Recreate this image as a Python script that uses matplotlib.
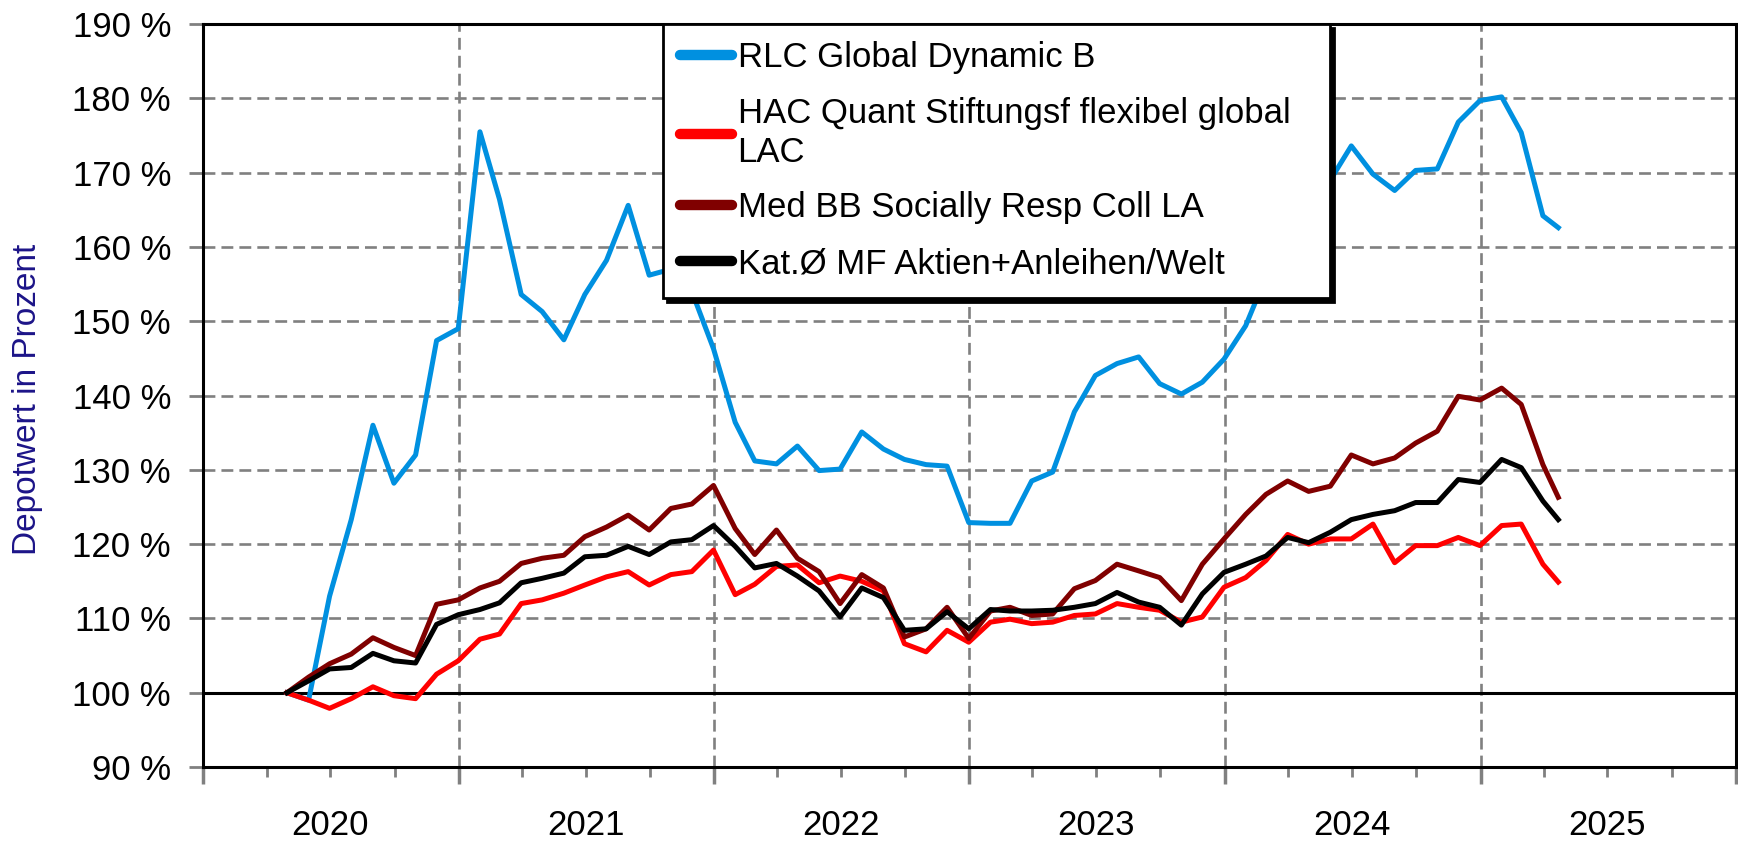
import numpy as np
import pandas as pd
import matplotlib
matplotlib.use('Agg')
import matplotlib.pyplot as plt
import matplotlib.dates as mdates
from matplotlib.ticker import FuncFormatter, FixedLocator

plt.rcParams['font.family'] = ['Liberation Sans', 'DejaVu Sans']

# month-end values (Apr 2020 .. Mar 2025) plus the last quote in Apr 2025
dates = list(pd.date_range('2020-04-30', '2025-03-31', freq=pd.offsets.MonthEnd())) + [pd.Timestamp('2025-04-22')]

rlc = [100, 99, 113, 123.3, 136, 128.2, 132, 147.4, 149,
       175.5, 166.4, 153.6, 151.3, 147.5, 153.6, 158.2, 165.6, 156.2, 157, 154, 146.3,
       136.4, 131.2, 130.8, 133.2, 129.9, 130.1, 135.1, 132.8, 131.4, 130.7, 130.5, 122.9,
       122.8, 122.8, 128.5, 129.7, 137.8, 142.7, 144.3, 145.2, 141.6, 140.2, 141.8, 144.9,
       149.4, 156, 161, 165, 169, 173.6, 169.8, 167.6, 170.3, 170.5, 176.8, 179.7,
       180.2, 175.4, 164.2, 162.6]

hac = [100, 99, 97.9, 99.2, 100.8, 99.6, 99.2, 102.5, 104.3,
       107.2, 107.9, 112, 112.5, 113.4, 114.5, 115.6, 116.3, 114.5, 115.9, 116.3, 119.2,
       113.2, 114.6, 117, 117.2, 114.8, 115.7, 115, 113.7, 106.6, 105.5, 108.4, 106.8,
       109.5, 109.9, 109.3, 109.5, 110.4, 110.6, 112, 111.5, 111.1, 109.5, 110.2, 114.2,
       115.5, 117.8, 121.3, 120, 120.7, 120.7, 122.7, 117.5, 119.8, 119.8, 120.9, 119.8,
       122.5, 122.7, 117.3, 114.9]

med = [100, 102.1, 103.9, 105.2, 107.4, 106.1, 105, 111.9, 112.5,
       114.1, 115, 117.4, 118.1, 118.5, 121, 122.3, 123.9, 121.9, 124.8, 125.4, 127.9,
       122.1, 118.6, 121.9, 118.1, 116.3, 112, 115.9, 114.1, 107.5, 108.6, 111.5, 107.3,
       111, 111.5, 110.4, 110.6, 114, 115.1, 117.3, 116.4, 115.5, 112.4, 117.3, 120.7,
       124, 126.7, 128.5, 127.1, 127.8, 132, 130.8, 131.6, 133.6, 135.2, 139.9, 139.4,
       141, 138.8, 130.7, 126.3]

kat = [100, 101.6, 103.2, 103.4, 105.3, 104.3, 104, 109.2, 110.5,
       111.2, 112.1, 114.8, 115.4, 116.1, 118.3, 118.5, 119.7, 118.6, 120.3, 120.6, 122.5,
       119.7, 116.8, 117.4, 115.7, 113.7, 110.2, 114.1, 112.8, 108.4, 108.6, 110.9, 108.6,
       111.2, 111, 111, 111.1, 111.5, 112, 113.5, 112.2, 111.5, 109.1, 113.3, 116.2,
       117.3, 118.4, 120.9, 120.2, 121.6, 123.3, 124, 124.5, 125.6, 125.6, 128.7, 128.3,
       131.4, 130.3, 125.8, 123.3]

series = [rlc, hac, med, kat]
labels = ['RLC Global Dynamic B',
          'HAC Quant Stiftungsf flexibel global\nLAC',
          'Med BB Socially Resp Coll LA',
          'Kat.\u00d8 MF Aktien+Anleihen/Welt']
colors = ['#0090E0', '#FF0000', '#800000', '#000000']
yticks = list(range(90, 191, 10))

fig = plt.figure(figsize=(17.38, 8.44), dpi=100)
ax = fig.add_axes([0.1168, 0.0912, 0.882, 0.8803])
ax.set_axisbelow(True)

grey = '#808080'
dash = (0, (4.5, 2.3))
ax.grid(axis='both', which='major', color=grey, linestyle=dash, linewidth=1.9)
ax.axhline(100, color='black', linewidth=2.2, zorder=1.5)

for vals, lab, col in zip(series, labels, colors):
    ax.plot(dates, vals, color=col, linewidth=3.6, label=lab, zorder=2)

ax.set_ylim(90, 190)
ax.yaxis.set_major_locator(FixedLocator(yticks))
ax.yaxis.set_major_formatter(FuncFormatter(lambda v, p: f'{int(v)} %'))
ax.set_xlim(pd.Timestamp('2020-01-01'), pd.Timestamp('2026-01-01'))
ax.xaxis.set_major_locator(mdates.YearLocator())
ax.xaxis.set_major_formatter(FuncFormatter(lambda v, p: ''))
ax.xaxis.set_minor_locator(mdates.MonthLocator(bymonth=[4, 7, 10]))


def year_label(v, pos):
    d = mdates.num2date(v)
    return str(d.year) if d.month == 7 else ''


ax.xaxis.set_minor_formatter(FuncFormatter(year_label))

ax.tick_params(axis='y', direction='out', length=10, width=2, color=grey,
               labelsize=25, pad=13)
ax.tick_params(axis='x', which='major', direction='out', length=12, width=2.5, color=grey)
ax.tick_params(axis='x', which='minor', direction='out', length=7, width=2, color=grey,
               labelsize=25, pad=23)
for sp in ax.spines.values():
    sp.set_linewidth(2.2)
    sp.set_color('black')

fig.text(28 / 1738, 0.527, 'Depotwert in Prozent', rotation=90, ha='center', va='center',
         fontsize=24, color='#1C1488')

leg = ax.legend(loc='upper left', bbox_to_anchor=(0.300, 0.5, 0.435, 0.5), mode='expand',
                borderaxespad=0, fontsize=25, handlelength=1.5, handletextpad=0.15,
                labelspacing=0.66, borderpad=0.5, fancybox=False, edgecolor='black',
                framealpha=1, shadow={'ox': 3, 'oy': -3, 'color': 'black', 'alpha': 1})
leg.get_frame().set_linewidth(2)
leg.set_zorder(5)
for ln in leg.get_lines():
    ln.set_linewidth(7.5)
    ln.set_solid_capstyle('round')

fig.savefig('out.png', dpi=100)
